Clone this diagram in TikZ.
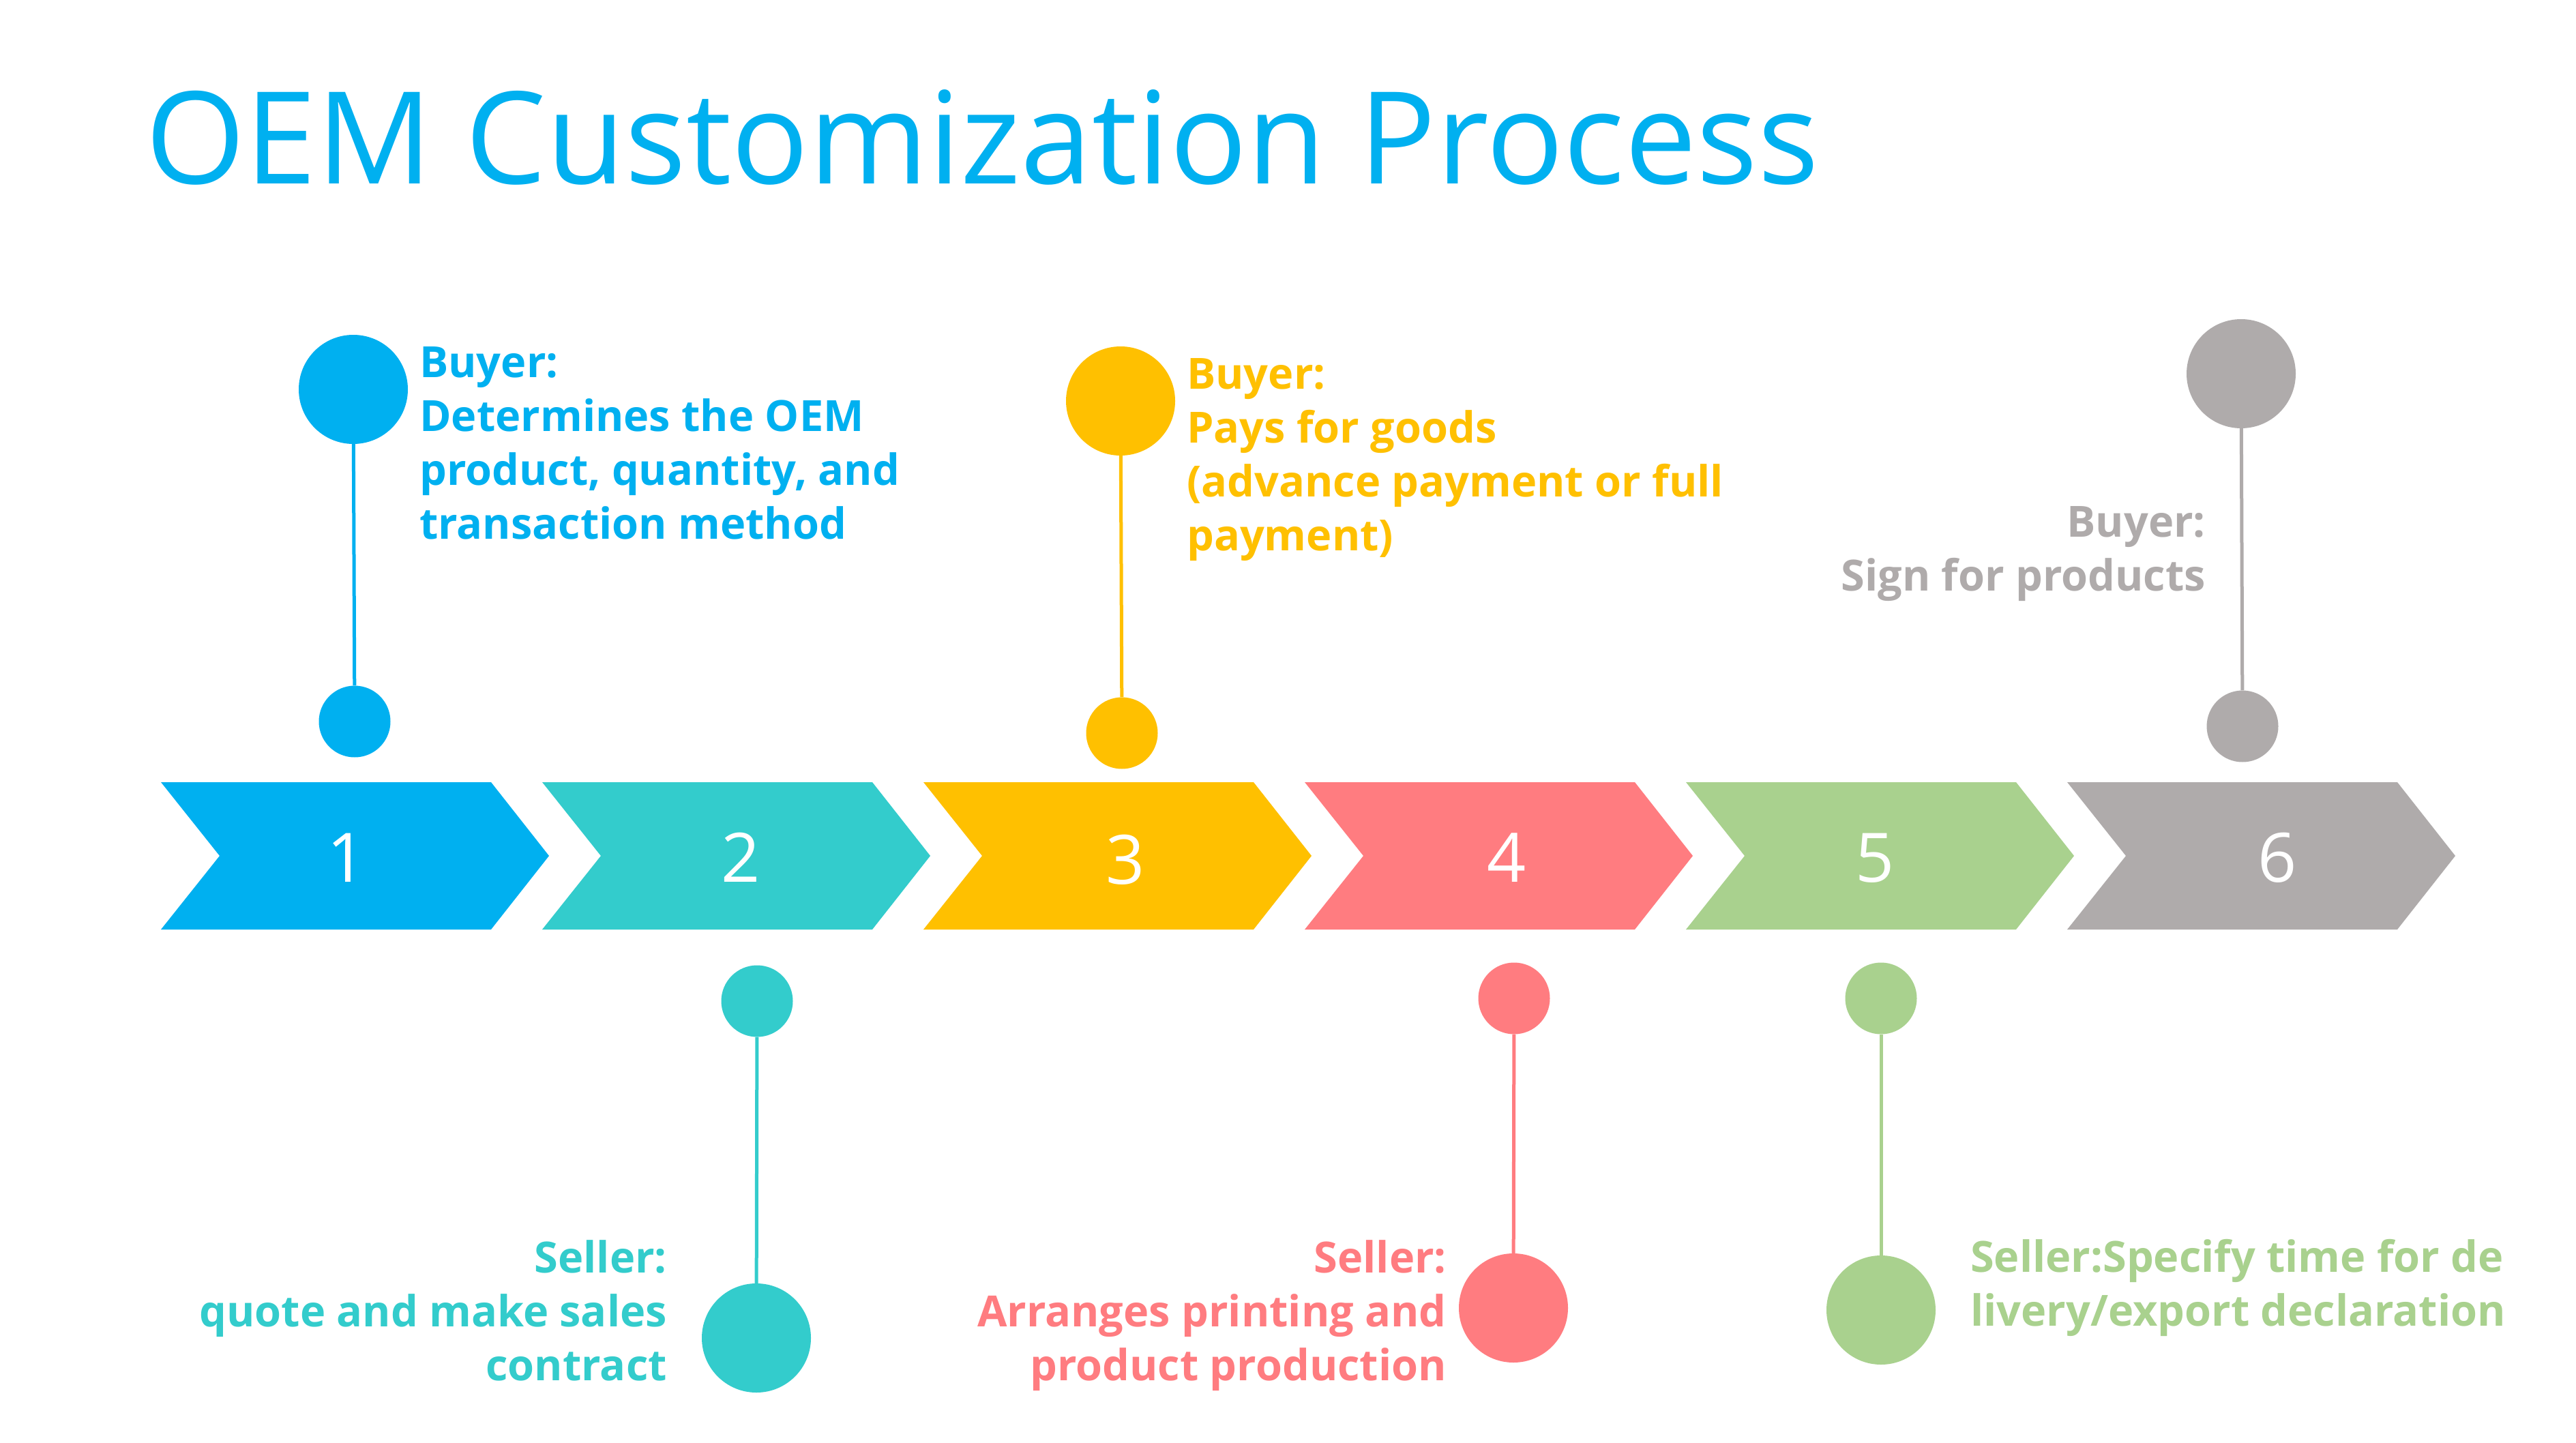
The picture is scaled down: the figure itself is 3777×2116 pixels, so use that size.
\documentclass[tikz,border=0pt]{standalone}
\usepackage{fontspec}
\setmainfont{Open Sans}
\definecolor{cBlue}{HTML}{00B0F0}
\definecolor{cTeal}{HTML}{33CCCC}
\definecolor{cYellow}{HTML}{FFC000}
\definecolor{cRed}{HTML}{FF7C80}
\definecolor{cGreen}{HTML}{A9D18E}
\definecolor{cGray}{HTML}{AFABAB}
\newcommand\lblockL[1]{\vtop{\baselineskip=79pt\lineskiplimit=-200pt\halign{##\hfil\cr#1\crcr}}}
\newcommand\lblockR[1]{\vtop{\baselineskip=79pt\lineskiplimit=-200pt\halign{\hfil##\cr#1\crcr}}}
\begin{document}
\begin{tikzpicture}[x=1pt,y=-1pt,
  bigdot/.style={circle, inner sep=0pt, minimum size=160pt},
  smalldot/.style={circle, inner sep=0pt, minimum size=105pt},
  conn/.style={line width=5pt},
  lbl/.style={inner sep=0pt, font=\fontsize{63}{79}\selectfont\bfseries},
  num/.style={inner sep=0pt, text=white, font=\fontsize{100}{120}\selectfont, anchor=base}
]
\useasboundingbox[fill=white] (0,0) rectangle (3777,2116);

% title
\node[anchor=base west, inner sep=0pt, text=cBlue, font=\fontsize{188}{220}\selectfont] (title) at (213,270) {OEM Customization Process};

% chevrons
\foreach \L/\c in {236/cBlue, 795/cTeal, 1354/cYellow, 1913/cRed, 2472/cGreen, 3031/cGray}{
  \fill[\c] (\L,1147) -- (\L+484,1147) -- (\L+569,1255) -- (\L+484,1363) -- (\L,1363) -- (\L+86,1255) -- cycle;
}
\node[num] (n1) at (508,1293) {1};
\node[num] (n2) at (1086,1293) {2};
\node[num] (n3) at (1650,1296) {3};
\node[num] (n4) at (2209,1293) {4};
\node[num] (n5) at (2749,1293) {5};
\node[num] (n6) at (3339,1293) {6};

% pin 1 (blue, up)
\node[bigdot, fill=cBlue] (b1) at (518,571) {};
\node[smalldot, fill=cBlue] (s1) at (520,1058) {};
\draw[conn, cBlue] (b1) -- (s1);
\node[lbl, text=cBlue, anchor=base west] (t1) at (615,553) {\lblockL{Buyer:\cr Determines the OEM\cr product, quantity, and\cr transaction method}};

% pin 2 (teal, down)
\node[smalldot, fill=cTeal] (s2) at (1110,1468) {};
\node[bigdot, fill=cTeal] (b2) at (1109,1962) {};
\draw[conn, cTeal] (s2) -- (b2);
\node[lbl, text=cTeal, anchor=base east] (t2) at (978,1866) {\lblockR{Seller:\cr quote and make sales\cr contract}};

% pin 3 (yellow, up)
\node[bigdot, fill=cYellow] (b3) at (1643,588) {};
\node[smalldot, fill=cYellow] (s3) at (1645,1075) {};
\draw[conn, cYellow] (b3) -- (s3);
\node[lbl, text=cYellow, anchor=base west] (t3) at (1740,570) {\lblockL{Buyer:\cr Pays for goods\cr (advance payment or full\cr payment)}};

% pin 4 (red, down)
\node[smalldot, fill=cRed] (s4) at (2220,1464) {};
\node[bigdot, fill=cRed] (b4) at (2219,1918) {};
\draw[conn, cRed] (s4) -- (b4);
\node[lbl, text=cRed, anchor=base east] (t4) at (2121,1866) {\lblockR{Seller:\cr Arranges printing and\cr product production}};

% pin 5 (green, down)
\node[smalldot, fill=cGreen] (s5) at (2758,1464) {};
\node[bigdot, fill=cGreen] (b5) at (2758,1921) {};
\draw[conn, cGreen] (s5) -- (b5);
\node[lbl, text=cGreen, anchor=base west] (t5) at (2889,1865) {\lblockL{Seller:Specify time for de\cr livery/export declaration}};

% pin 6 (gray, up)
\node[bigdot, fill=cGray] (b6) at (3286,548) {};
\node[smalldot, fill=cGray] (s6) at (3288,1065) {};
\draw[conn, cGray] (b6) -- (s6);
\node[lbl, text=cGray, anchor=base east] (t6) at (3234,787) {\lblockR{Buyer:\cr Sign for products}};
\end{tikzpicture}
\end{document}
